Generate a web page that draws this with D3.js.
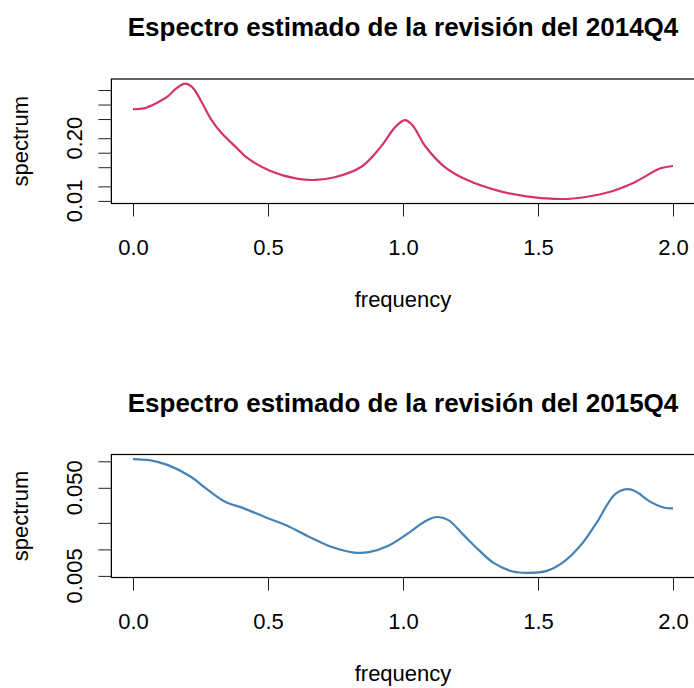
<!DOCTYPE html>
<html>
<head>
<meta charset="utf-8">
<script src="https://cdn.jsdelivr.net/npm/d3@7"></script>
<style>
  body { margin: 0; background: #fff; }
  svg { display: block; font-family: "Liberation Sans", Arial, Helvetica, sans-serif; }
</style>
</head>
<body>
<svg id="chart" width="694" height="688"></svg>
<script>
// frequency grid
var freq1 = [0, 0.04, 0.088, 0.13, 0.159, 0.193, 0.221, 0.257, 0.291, 0.327, 0.39, 0.418, 0.509, 0.607, 0.677,
    0.747, 0.846, 0.916, 0.972, 1.007, 1.035, 1.084, 1.154, 1.238, 1.351, 1.463, 1.561, 1.631, 1.757, 1.855, 1.954, 2.0];
var spec2014 = [0.80, 0.83, 1.08, 1.49, 2.14, 2.72, 2.24, 1.05, 0.473, 0.259, 0.117, 0.082, 0.0418, 0.0289, 0.0272,
    0.0309, 0.0512, 0.129, 0.344, 0.473, 0.373, 0.133, 0.051, 0.027, 0.0163, 0.0123, 0.011, 0.0112, 0.0149, 0.0239, 0.0474, 0.053];

var freq2 = [0, 0.06, 0.13, 0.214, 0.27, 0.341, 0.411, 0.495, 0.565, 0.663, 0.734, 0.818, 0.874, 0.944, 1.028, 1.084,
    1.126, 1.168, 1.224, 1.281, 1.337, 1.407, 1.463, 1.533, 1.589, 1.659, 1.716, 1.786, 1.835, 1.87, 1.912, 1.968, 2.0];
var spec2015 = [0.106, 0.103, 0.0904, 0.0667, 0.0492, 0.0347, 0.0292, 0.0229, 0.0189, 0.0134, 0.0107, 0.0092, 0.0093,
    0.0109, 0.0159, 0.021, 0.0233, 0.0215, 0.0146, 0.0098, 0.00697, 0.0056, 0.0054, 0.0057, 0.00697, 0.0112, 0.0198,
    0.0425, 0.0483, 0.0439, 0.0353, 0.0297, 0.0292];

var xTicks = [0, 0.5, 1, 1.5, 2];
var yTicks1 = [0.01, 0.02, 0.05, 0.1, 0.2, 0.5, 1, 2];
var yTicks2 = [0.005, 0.01, 0.02, 0.05, 0.1];

var titles = ["Espectro estimado de la revisión del 2014Q4", "Espectro estimado de la revisión del 2015Q4"];

var svg = d3.select("#chart");
var left = 111.4, right = 694.6;

// R style 4% padding on the axes
function padded(ext, log) {
    var a = log ? Math.log10(ext[0]) : ext[0], b = log ? Math.log10(ext[1]) : ext[1];
    var p = (b - a) * 0.04;
    return log ? [Math.pow(10, a - p), Math.pow(10, b + p)] : [a - p, b + p];
}

function panel(opts) {
    var g = svg.append("g");
    var top = opts.top, bottom = opts.bottom;

    var x = d3.scaleLinear().domain(padded([0, 2], false)).range([left, right]);
    var y = d3.scaleLog().domain(padded(d3.extent(opts.values), true)).range([bottom, top]);

    var pts = opts.freq.map(function(f, i) { return [f, opts.values[i]]; });

    var line = d3.line()
        .x(function(d) { return x(d[0]); })
        .y(function(d) { return y(d[1]); })
        .curve(d3.curveCatmullRom.alpha(0.5));

    g.append("path")
        .datum(pts)
        .attr("d", line)
        .attr("fill", "none")
        .attr("stroke", opts.color)
        .attr("stroke-width", 2.2)
        .attr("stroke-linejoin", "round");

    // box
    g.append("rect")
        .attr("x", left).attr("y", top)
        .attr("width", right - left).attr("height", bottom - top)
        .attr("fill", "none").attr("stroke", "#000").attr("stroke-width", 1.2);

    // x axis
    var xAxis = d3.axisBottom(x).tickValues(xTicks).tickFormat(d3.format(".1f"))
        .tickSizeOuter(0).tickSizeInner(13).tickPadding(24);
    var gx = g.append("g").attr("transform", "translate(0," + bottom + ")").call(xAxis);
    gx.select(".domain").attr("d", "M" + x(0) + ",0H" + x(2)).attr("stroke", "#000");
    gx.selectAll(".tick line").attr("stroke", "#222");
    gx.selectAll("text").attr("font-size", 22).attr("fill", "#000").attr("font-family", null)
        .attr("dy", null).attr("y", 51);

    // y axis, labels parallel to the axis
    var fmt = opts.yFormat;
    var yAxis = d3.axisLeft(y).tickValues(opts.yTicks).tickFormat("").tickSizeOuter(0).tickSizeInner(13);
    var gy = g.append("g").attr("transform", "translate(" + left + ",0)").call(yAxis);
    gy.select(".domain")
        .attr("d", "M0," + y(opts.yTicks[0]) + "V" + y(opts.yTicks[opts.yTicks.length - 1]))
        .attr("stroke", "#000");
    gy.selectAll(".tick line").attr("stroke", "#222");

    // drop labels that would overlap, like R's axis()
    var lastEdge = Infinity;
    var mw = 0;
    opts.yTicks.forEach(function(t) {
        var lab = g.append("text")
            .attr("transform", "translate(82," + y(t) + ") rotate(-90)")
            .attr("text-anchor", "middle")
            .attr("font-size", 22)
            .text(fmt(t));
        if (!mw) {
            var m = g.append("text").attr("font-size", 22).text("m");
            mw = m.node().getComputedTextLength();
            m.remove();
        }
        var w = lab.node().getComputedTextLength();
        var lo = y(t) + w / 2, hi = y(t) - w / 2;
        if (lo > lastEdge - mw) { lab.remove(); } else { lastEdge = hi; }
    });

    g.append("text")
        .attr("x", (left + right) / 2).attr("y", top - 43)
        .attr("text-anchor", "middle")
        .attr("font-size", 26).attr("font-weight", "bold")
        .text(opts.title);

    g.append("text")
        .attr("x", (left + right) / 2).attr("y", bottom + 103)
        .attr("text-anchor", "middle")
        .attr("font-size", 22)
        .text("frequency");

    g.append("text")
        .attr("transform", "translate(28," + (top + bottom) / 2 + ") rotate(-90)")
        .attr("text-anchor", "middle")
        .attr("font-size", 22)
        .text("spectrum");
}

panel({ top: 79, bottom: 203.5, freq: freq1, values: spec2014, color: "#d4336e",
    yTicks: yTicks1, yFormat: d3.format(".2f"), title: titles[0] });
panel({ top: 454.5, bottom: 577.5, freq: freq2, values: spec2015, color: "#4682b4",
    yTicks: yTicks2, yFormat: d3.format(".3f"), title: titles[1] });
</script>
</body>
</html>
